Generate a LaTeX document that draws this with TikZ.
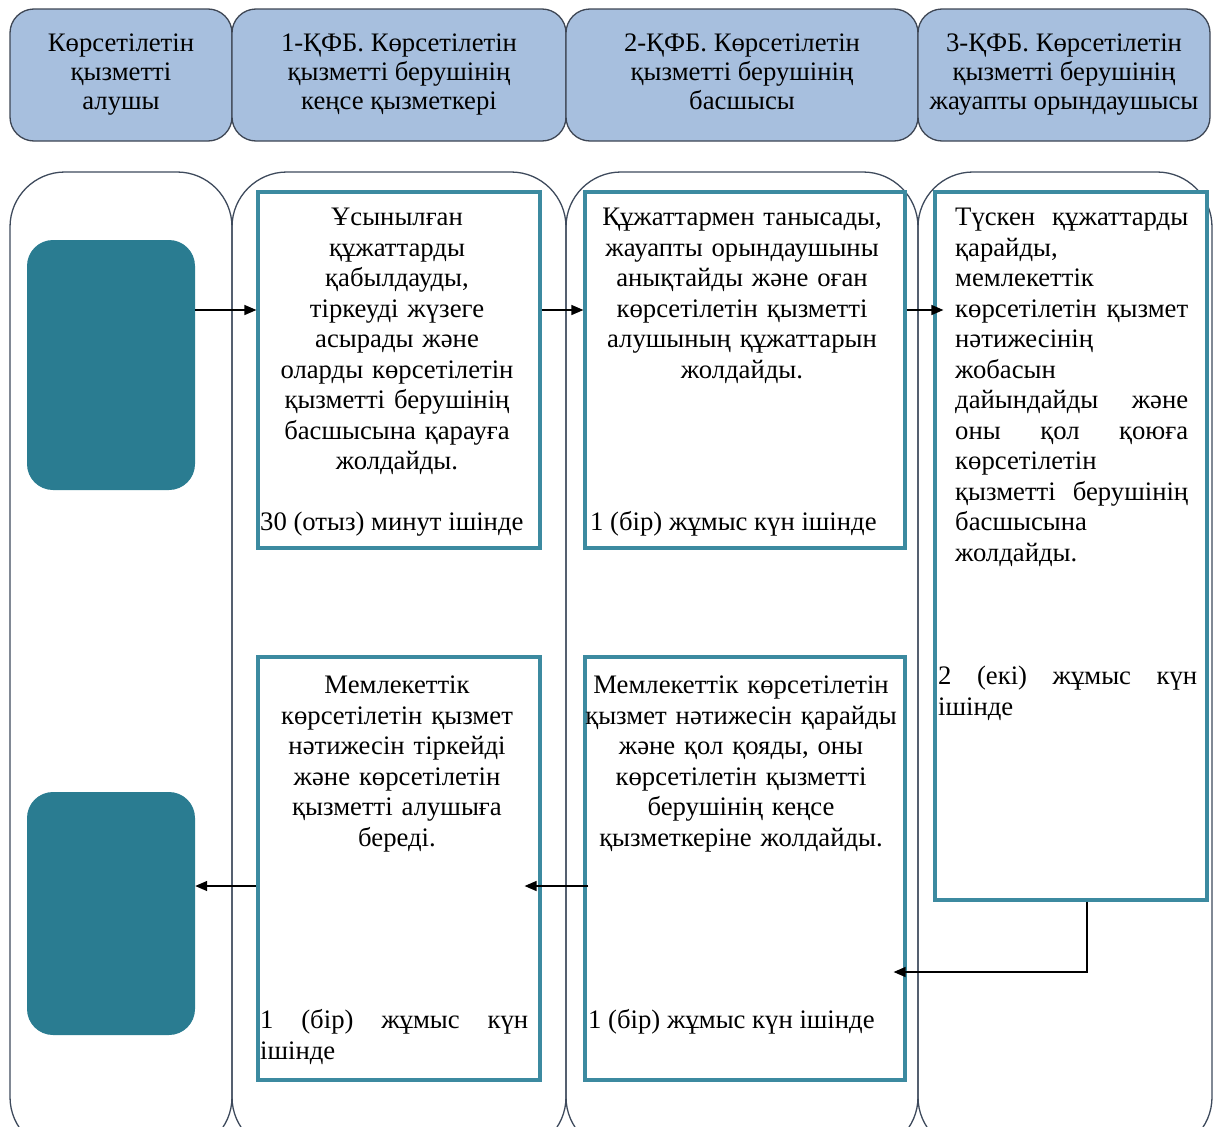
\documentclass[tikz,border=0pt]{standalone}
\usepackage{fontspec}
\setmainfont{Liberation Serif}
\usetikzlibrary{arrows.meta}
\definecolor{hdrfill}{HTML}{A7BFDE}
\definecolor{hdrdraw}{HTML}{3E4654}
\definecolor{lanedraw}{HTML}{3E4A5C}
\definecolor{boxdraw}{HTML}{3C8AA0}
\definecolor{darkfill}{HTML}{2A7C91}
\begin{document}
\begin{tikzpicture}[x=1pt,y=-1pt,
 hdr/.style={draw=hdrdraw, line width=1.3pt, fill=hdrfill, rounded corners=24pt, inner sep=0pt, align=center, font=\fontsize{26.7}{29}\selectfont},
 lane/.style={draw=lanedraw, line width=1.3pt, rounded corners=55pt, inner sep=0pt},
 stepbox/.style={draw=boxdraw, line width=3.2pt, fill=white, inner sep=0pt},
 darkbox/.style={fill=darkfill, rounded corners=26pt, inner sep=0pt},
 txt/.style={font=\fontsize{26.7}{30.5}\selectfont, inner sep=0pt},
 arr/.style={line width=1.4pt, -{Triangle[length=12pt,width=10pt]}}]
\useasboundingbox (0,0) rectangle (1213,1127);
\clip (0,0) rectangle (1213,1127);
% headers
\node[hdr, minimum width=222pt, minimum height=132pt] (h1) at (121,75) {\strut Көрсетілетін\\қызметті\\алушы\strut};
\node[hdr, minimum width=334pt, minimum height=132pt] (h2) at (399,75) {\strut 1-ҚФБ. Көрсетілетін\\қызметті берушінің\\кеңсе қызметкері\strut};
\node[hdr, minimum width=352pt, minimum height=132pt] (h3) at (742,75) {\strut 2-ҚФБ. Көрсетілетін\\қызметті берушінің\\басшысы\strut};
\node[hdr, minimum width=292pt, minimum height=132pt] (h4) at (1064,75) {\strut 3-ҚФБ. Көрсетілетін\\қызметті берушінің\\жауапты орындаушысы\strut};
% lanes
\node[lane, minimum width=222pt, minimum height=980pt] (l1) at (121,662) {};
\node[lane, minimum width=334pt, minimum height=980pt] (l2) at (399,662) {};
\node[lane, minimum width=352pt, minimum height=980pt] (l3) at (742,662) {};
\node[lane, minimum width=294pt, minimum height=980pt] (l4) at (1065,662) {};
% dark terminals
\node[darkbox, minimum width=168pt, minimum height=250pt] (d1) at (111,365) {};
\node[darkbox, minimum width=168pt, minimum height=243pt] (d2) at (111,913.5) {};
% step boxes
\node[stepbox, minimum width=282pt, minimum height=356pt] (b1) at (399,370) {};
\node[stepbox, minimum width=320pt, minimum height=356pt] (b2) at (745,370) {};
\node[stepbox, minimum width=272pt, minimum height=708pt] (b3) at (1071,546) {};
\node[stepbox, minimum width=282pt, minimum height=423pt] (b4) at (399,868.5) {};
\node[stepbox, minimum width=320pt, minimum height=423pt] (b5) at (745,868.5) {};
% texts
\node[txt, text width=280pt, align=center, anchor=north] (t1) at (397,204) {\strut Ұсынылған\\құжаттарды\\қабылдауды,\\тіркеуді жүзеге\\асырады және\\оларды көрсетілетін\\қызметті берушінің\\басшысына қарауға\\жолдайды.};
\node[txt, anchor=base west] (u1) at (260,530) {30 (отыз) минут ішінде};
\node[txt, text width=316pt, align=center, anchor=north] (t2) at (742,204) {\strut Құжаттармен танысады,\\жауапты орындаушыны\\анықтайды және оған\\көрсетілетін қызметті\\алушының құжаттарын\\жолдайды.};
\node[txt, anchor=base west] (u2) at (590,530) {1 (бір) жұмыс күн ішінде};
\node[txt, text width=233pt, align=left, anchor=north west] (t3) at (955,204) {\strut Түскен\hfill құжаттарды\\қарайды,\\мемлекеттік\\көрсетілетін\hfill қызмет\\нәтижесінің\\жобасын\\дайындайды\hfill және\\оны\hfill қол\hfill қоюға\\көрсетілетін\\қызметті\hfill берушінің\\басшысына\\жолдайды.};
\node[txt, text width=259pt, align=left, anchor=north west] (u3) at (938,663) {\strut 2\hfill (екі)\hfill жұмыс\hfill күн\\ішінде};
\node[txt, text width=280pt, align=center, anchor=north] (t4) at (397,672) {\strut Мемлекеттік\\көрсетілетін қызмет\\нәтижесін тіркейді\\және көрсетілетін\\қызметті алушыға\\береді.};
\node[txt, text width=268pt, align=left, anchor=north west] (u4) at (260,1007) {\strut 1\hfill (бір)\hfill жұмыс\hfill күн\\ішінде};
\node[txt, text width=316pt, align=center, anchor=north] (t5) at (741,672) {\strut Мемлекеттік көрсетілетін\\қызмет нәтижесін қарайды\\және қол қояды, оны\\көрсетілетін қызметті\\берушінің кеңсе\\қызметкеріне жолдайды.};
\node[txt, anchor=base west] (u5) at (588,1028) {1 (бір) жұмыс күн ішінде};
% connectors
\coordinate (r1) at (0,310);
\coordinate (r2) at (0,886);
\coordinate (c6) at (1087,972);
\draw[arr] (d1.east |- r1) -- (b1.west |- r1);
\draw[arr] (b1.east |- r1) -- (b2.west |- r1);
\draw[arr, shorten >=-10pt] (b2.east |- r1) -- (b3.west |- r1);
\draw[arr] (b4.west |- r2) -- (d2.east |- r2);
\draw[arr, shorten <=-5pt, shorten >=-17pt] (b5.west |- r2) -- (b4.east |- r2);
\draw[arr, shorten >=-13pt] (b3.south -| c6) |- (b5.east |- c6);
\end{tikzpicture}
\end{document}
